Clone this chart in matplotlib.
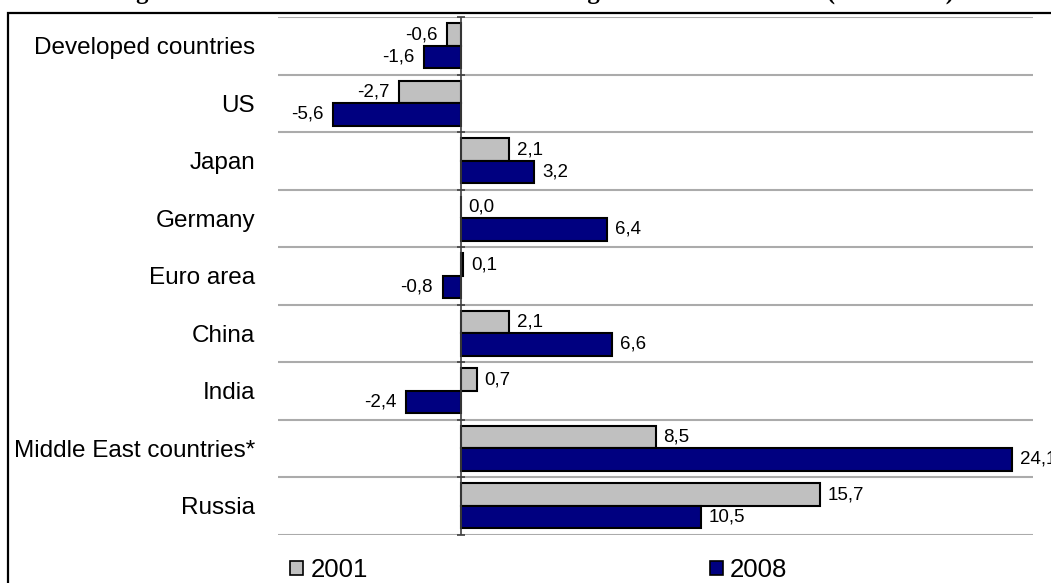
import matplotlib
matplotlib.use("Agg")
import matplotlib.pyplot as plt
from matplotlib.patches import Rectangle, Patch
import numpy as np

plt.rcParams['font.family'] = ['Liberation Sans', 'DejaVu Sans']

countries = ['Developed countries', 'US', 'Japan', 'Germany', 'Euro area',
             'China', 'India', 'Middle East countries*', 'Russia']
y2001 = [-0.6, -2.7, 2.1, 0.0, 0.1, 2.1, 0.7, 8.5, 15.7]
y2008 = [-1.6, -5.6, 3.2, 6.4, -0.8, 6.6, -2.4, 24.1, 10.5]
years = ['2001', '2008']
colors = ['#c0c0c0', '#000080']

W, H = 1051, 583
fig = plt.figure(figsize=(W / 100, H / 100), dpi=100)
ax = fig.add_axes([278 / W, 1 - 534.5 / H, (1033 - 278) / W, (534.5 - 17) / H])

# outer chart frame (runs off the right and bottom edges)
fig.add_artist(Rectangle((8 / W, -0.2), 1.2, 1.2 - 13 / H, transform=fig.transFigure,
                         fill=False, edgecolor='black', lw=1.6))

# title sits mostly above the visible area
fig.text(78 / W, 1 + 1.5 / H,
         'Change in the current account balance of leading countries in 2001-08 (% of GDP)',
         ha='left', va='baseline', fontsize=17.9, fontweight='bold',
         family='Liberation Serif')

n = len(countries)
centers = np.arange(n) + 0.5
h = 0.39
for i, (vals, col) in enumerate(zip([y2001, y2008], colors)):
    pos = centers + (i - 0.5) * h
    ax.barh(pos, vals, height=h, color=col, edgecolor='black', lw=1.5, zorder=3)
    for p, v in zip(pos, vals):
        txt = '{:.1f}'.format(v).replace('.', ',')
        if v < 0:
            ax.annotate(txt, (v, p), xytext=(-7, 0), textcoords='offset points',
                        ha='right', va='center', fontsize=13.5, annotation_clip=False)
        else:
            ax.annotate(txt, (v, p), xytext=(5.5, 0), textcoords='offset points',
                        ha='left', va='center', fontsize=13.5, annotation_clip=False)

ax.set_xlim(-8, 25)
ax.set_ylim(n, 0)
for b in range(n + 1):
    ax.axhline(b, color='#ababab', lw=1.5, zorder=1)
ax.axvline(0, color='#404040', lw=1.2, zorder=4)
ax.plot(np.zeros(n + 1), np.arange(n + 1), ls='none', marker='_', ms=6,
        mew=1.2, color='#404040', zorder=4, clip_on=False)

for s in ax.spines.values():
    s.set_visible(False)
ax.set_xticks([])
ax.set_yticks(centers)
ax.set_yticklabels(countries, fontsize=17.5)
ax.tick_params(axis='y', length=0, pad=16.5)
ax.patch.set_alpha(0)

handles = [Patch(facecolor=c, edgecolor='black', lw=1.2) for c in colors]
fig.legend(handles, years, ncol=2, loc='center left',
           bbox_to_anchor=(290 / W, 1 - 570 / H), frameon=False, fontsize=18.5,
           handlelength=0.5, handleheight=0.5, handletextpad=0.3,
           columnspacing=13.3, borderaxespad=0, borderpad=0)

fig.savefig('out.png', dpi=100)
